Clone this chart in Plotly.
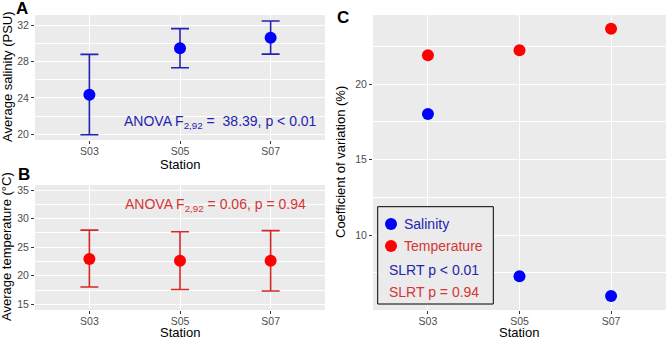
import plotly.graph_objects as go

W, H = 666, 339

stations = ["S03", "S05", "S07"]
sal_mean = [24.34, 29.44, 30.60]
sal_upper = [28.78, 31.60, 32.44]
sal_lower = [19.95, 27.30, 28.80]
temp_mean = [22.94, 22.64, 22.64]
temp_upper = [28.00, 27.70, 27.90]
temp_lower = [18.04, 17.60, 17.34]
cv_salinity = [18.02, 7.27, 5.97]
cv_temperature = [21.92, 22.25, 23.67]


def px(x):
    return x / W


def py(y):
    return 1 - y / H


FONT = "Liberation Sans, Arial, Helvetica, sans-serif"
BLUE_PT = "#0000FF"
RED_PT = "#FF0000"
BLUE_BAR = "#2323B2"
RED_BAR = "#D62828"
BLUE_TXT = "#2424AE"
RED_TXT = "#D53535"
PANEL = "#EBEBEB"

fig = go.Figure()

fig.add_trace(go.Scatter(
    x=stations, y=sal_mean, mode="markers",
    marker=dict(size=12, color=BLUE_PT),
    error_y=dict(type="data", symmetric=False,
                 array=[u - m for u, m in zip(sal_upper, sal_mean)],
                 arrayminus=[m - l for m, l in zip(sal_mean, sal_lower)],
                 color=BLUE_BAR, thickness=1.6, width=9),
    xaxis="x", yaxis="y", showlegend=False))

fig.add_trace(go.Scatter(
    x=stations, y=temp_mean, mode="markers",
    marker=dict(size=12, color=RED_PT),
    error_y=dict(type="data", symmetric=False,
                 array=[u - m for u, m in zip(temp_upper, temp_mean)],
                 arrayminus=[m - l for m, l in zip(temp_mean, temp_lower)],
                 color=RED_BAR, thickness=1.6, width=9),
    xaxis="x2", yaxis="y2", showlegend=False))

fig.add_trace(go.Scatter(
    x=stations, y=cv_salinity, mode="markers",
    marker=dict(size=12, color=BLUE_PT),
    xaxis="x3", yaxis="y3", showlegend=False))
fig.add_trace(go.Scatter(
    x=stations, y=cv_temperature, mode="markers",
    marker=dict(size=12, color=RED_PT),
    xaxis="x3", yaxis="y3", showlegend=False))

tickfont = dict(family=FONT, size=10.5, color="#4D4D4D")


def xax(domain, anchor):
    return dict(domain=domain, anchor=anchor, type="category",
                range=[-0.6, 2.6], showgrid=True, gridcolor="white",
                gridwidth=1.2, zeroline=False, ticks="outside", ticklen=3,
                tickcolor="#333333", tickwidth=1, tickfont=tickfont,
                ticklabelstandoff=-2,
                showline=False, fixedrange=True, automargin=False)


def yax(domain, anchor, rng, tickvals, minor_dtick, minor_start):
    return dict(domain=domain, anchor=anchor, range=rng, tickvals=tickvals,
                showgrid=True, gridcolor="white", gridwidth=1.2,
                zeroline=False, ticks="outside", ticklen=3,
                tickcolor="#333333", tickwidth=1, tickfont=tickfont,
                minor=dict(showgrid=True, gridcolor="white", gridwidth=0.6,
                           dtick=minor_dtick, tick0=minor_start, ticks=""),
                showline=False, fixedrange=True, automargin=False)


xa_dom = [px(35), px(325)]
xc_dom = [px(373), 1.0]
ya_dom = [py(140), py(15)]
yb_dom = [py(310), py(185)]
yc_dom = [py(310), py(15)]

fig.update_layout(
    width=W, height=H,
    margin=dict(l=0, r=0, t=0, b=0, autoexpand=False),
    paper_bgcolor="white",
    plot_bgcolor=PANEL,
    font=dict(family=FONT, color="black"),
    xaxis=xax(xa_dom, "y"),
    yaxis=yax(ya_dom, "x", [19.37, 33.1], [20, 24, 28, 32], 2, 20),
    xaxis2=xax(xa_dom, "y2"),
    yaxis2=yax(yb_dom, "x2", [14.0, 35.9], [15, 20, 25, 30, 35], 2.5, 15),
    xaxis3=xax(xc_dom, "y3"),
    yaxis3=yax(yc_dom, "x3", [5.04, 24.58], [10, 15, 20], 2.5, 5),
)

ann = []


def text(x, y, s, size=13, color="black", angle=0, xanchor="center",
         yanchor="middle", bold=False):
    if bold:
        s = "<b>" + s + "</b>"
    ann.append(dict(x=px(x), y=py(y), xref="paper", yref="paper", text=s,
                    showarrow=False, textangle=angle, xanchor=xanchor,
                    yanchor=yanchor,
                    font=dict(family=FONT, size=size, color=color)))


# panel labels
text(22, 8, "A", size=17, bold=True)
text(24, 174, "B", size=17, bold=True)
text(343, 18, "C", size=17, bold=True)

# axis titles
text(7, 77, "Average salinity (PSU)", angle=-90)
text(7, 247, "Average temperature (°C)", angle=-90)
text(340, 162, "Coefficient of variation (%)", angle=-90)
text(180, 164.5, "Station")
text(180, 332.5, "Station")
text(519, 332.5, "Station")

# statistics annotations
text(220, 122, "ANOVA F<sub>2,92</sub> =  38.39, p < 0.01", size=14,
     color=BLUE_TXT)
text(215, 205, "ANOVA F<sub>2,92</sub> = 0.06, p = 0.94", size=14,
     color=RED_TXT)

# legend in panel C
text(401.7, 224, "Salinity", size=14, color=BLUE_TXT, xanchor="left")
text(401.7, 246, "Temperature", size=14, color=RED_TXT, xanchor="left")
text(387.3, 270, "SLRT p < 0.01", size=14, color=BLUE_TXT, xanchor="left")
text(387.3, 291.7, "SLRT p = 0.94", size=14, color=RED_TXT, xanchor="left")

fig.update_layout(annotations=ann)

shapes = [
    dict(type="rect", xref="paper", yref="paper",
         x0=px(377.7), x1=px(493.3), y0=py(304), y1=py(206.7),
         line=dict(color="black", width=1), fillcolor=PANEL, layer="above"),
]
for cy, col in [(224, BLUE_PT), (246, RED_PT)]:
    r = 6
    shapes.append(dict(type="circle", xref="paper", yref="paper",
                       x0=px(391 - r), x1=px(391 + r),
                       y0=py(cy + r), y1=py(cy - r),
                       line=dict(width=0), fillcolor=col, layer="above"))
fig.update_layout(shapes=shapes)

fig.write_html("out.html",
               config={"displayModeBar": False},
               post_script="document.body.style.margin='0';"
                           "document.body.style.overflow='hidden';")
